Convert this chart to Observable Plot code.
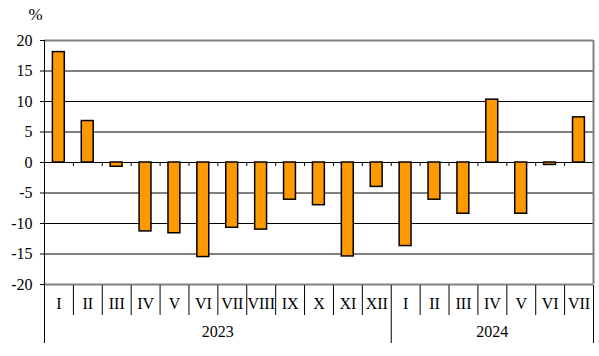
<!DOCTYPE html>
<html>
<head>
<meta charset="utf-8">
<script src="https://cdn.jsdelivr.net/npm/d3@7"></script>
<script src="https://cdn.jsdelivr.net/npm/@observablehq/plot@0.6"></script>
<style>
  html, body { margin: 0; padding: 0; background: #fff; }
  svg text { font-family: 'Liberation Serif', 'Times New Roman', serif; }
</style>
</head>
<body>
<div id="chart"></div>
<script>
const months = ["I","II","III","IV","V","VI","VII","VIII","IX","X","XI","XII","I","II","III","IV","V","VI","VII"];
const years = ["2023","2023","2023","2023","2023","2023","2023","2023","2023","2023","2023","2023","2024","2024","2024","2024","2024","2024","2024"];
const values = [18.1, 6.8, -0.7, -11.3, -11.6, -15.5, -10.7, -11.0, -6.1, -7.0, -15.4, -4.0, -13.7, -6.1, -8.4, 10.3, -8.4, -0.4, 7.4];
const yTicks = [-20, -15, -10, -5, 0, 5, 10, 15, 20];
const yearLabels = ["2023", "2024"];

const FONT = "'Liberation Serif', 'Times New Roman', serif";
const data = values.map((v, i) => ({i, v, m: months[i], yr: years[i]}));
const boundaries = d3.range(0, months.length + 1);
const yearGroups = yearLabels.map(y => {
  const idx = data.filter(d => d.yr === y).map(d => d.i);
  return {yr: y, start: d3.min(idx), end: d3.max(idx) + 1};
});
const yearBounds = Array.from(new Set(yearGroups.flatMap(g => [g.start, g.end])));
const monthBounds = boundaries.filter(b => !yearBounds.includes(b));
const n = months.length;

const chart = Plot.plot({
  width: 599,
  height: 356,
  marginLeft: 44,
  marginRight: 6,
  marginTop: 40,
  marginBottom: 72,
  style: {fontFamily: FONT, fontSize: "16px", background: "#fff", color: "#000"},
  x: {domain: [0, n], axis: null},
  y: {domain: [-20, 20], axis: null},
  marks: [
    Plot.ruleY(yTicks.filter(t => Math.abs(t) !== 20), {stroke: "#000", strokeWidth: 1}),
    Plot.ruleY([-20, 20], {stroke: "#808080", strokeWidth: 2}),
    Plot.ruleX([n], {y1: 20, y2: -20, stroke: "#808080", strokeWidth: 2}),
    Plot.ruleX(boundaries.slice(1, -1), {y1: 0, y2: 0, insetBottom: -4, stroke: "#000"}),
    Plot.rectY(data, {x: "i", interval: 1, y: "v", insetLeft: 8.4, insetRight: 8.6, fill: "#ff9900", stroke: "#000", strokeWidth: 1.5}),
    Plot.ruleX([0], {y1: 20, y2: -20, insetBottom: -59, stroke: "#000"}),
    Plot.axisY(yTicks, {label: null, tickSize: 4, tickPadding: 8, tickFormat: d => String(d), fontSize: 16, fontFamily: FONT, stroke: "#000", fill: "#000"}),
    Plot.ruleX(monthBounds, {y1: -20, y2: -20, insetTop: 1, insetBottom: -31, stroke: "#000"}),
    Plot.ruleX(yearBounds, {y1: -20, y2: -20, insetTop: 1, insetBottom: -59, stroke: "#000"}),
    Plot.text(data, {x: d => d.i + 0.5, text: "m", frameAnchor: "bottom", dy: 24, fontSize: 16, fontFamily: FONT, fill: "#000"}),
    Plot.text(yearGroups, {x: d => (d.start + d.end) / 2, text: "yr", frameAnchor: "bottom", dy: 52, fontSize: 16, fontFamily: FONT, fill: "#000"}),
    Plot.text(["%"], {frameAnchor: "top-left", text: d => d, textAnchor: "middle", lineAnchor: "middle", dx: -9, dy: -26, fontSize: 17, fontFamily: FONT, fill: "#000"})
  ]
});
document.getElementById("chart").appendChild(chart);
</script>
</body>
</html>
